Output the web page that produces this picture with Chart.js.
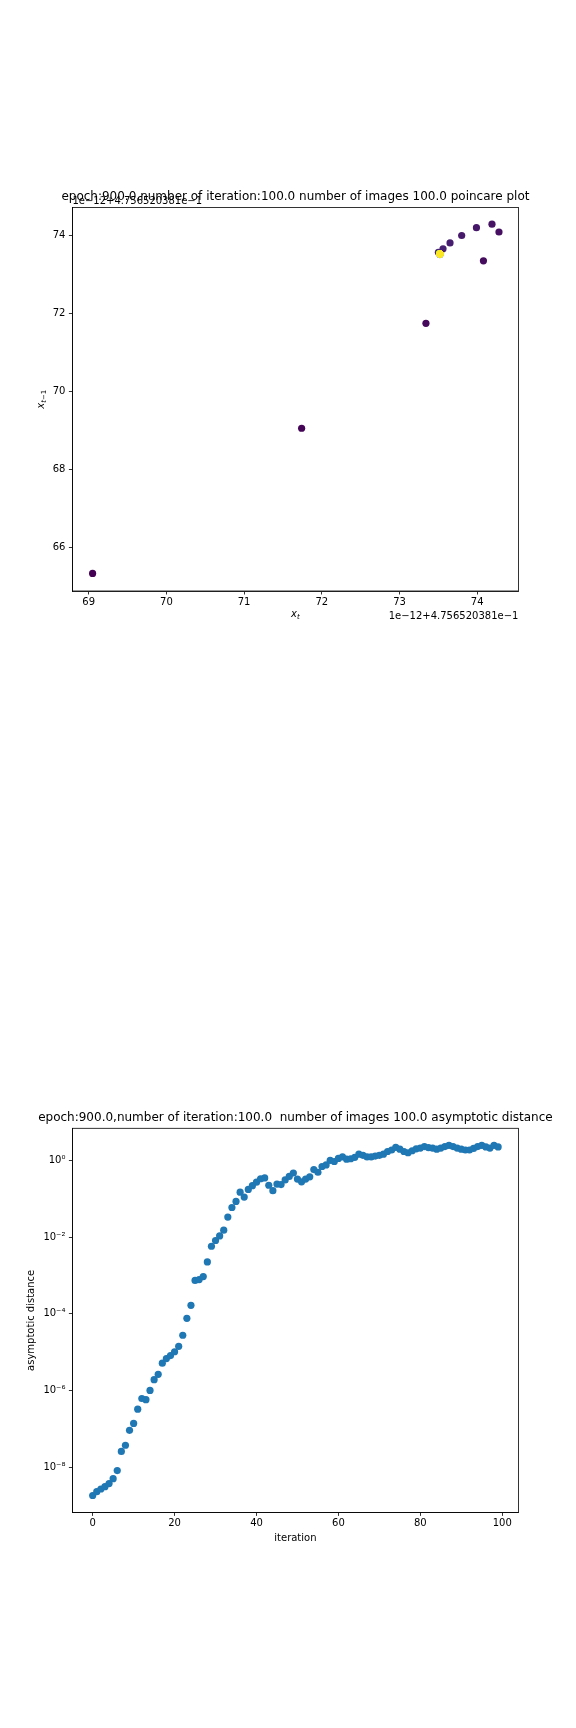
<!DOCTYPE html>
<html><head><meta charset="utf-8">
<script src="https://cdn.jsdelivr.net/npm/chart.js@4.4.0/dist/chart.umd.min.js"></script>
<style>
html,body{margin:0;padding:0;background:#fff;}
#wrap{position:relative;width:576px;height:1728px;background:#fff;overflow:hidden;}
canvas{position:absolute;left:0;}
</style></head><body>
<div id="wrap">
<canvas id="c1" width="576" height="700" style="top:0px;width:576px;height:700px"></canvas>
<canvas id="c2" width="576" height="728" style="top:1000px;width:576px;height:728px"></canvas>
</div>
<script>
// ---------- data: poincare plot (values shown as offset 1e-12 + 4.756520381e-1) ----------
const poincareSeries = [
  65.33, 69.05, 71.74, 73.34, 74.08, 74.28, 74.19, 73.99, 73.80, 73.65, 73.56, 73.50,
  73.52, 73.52, 73.52, 73.52, 73.52, 73.52, 73.52, 73.52, 73.52, 73.52, 73.52,
  73.52, 73.52, 73.52, 73.52, 73.52, 73.52, 73.52, 73.52, 73.52, 73.52, 73.52,
  73.52, 73.52, 73.52, 73.52, 73.52, 73.52, 73.52, 73.52, 73.52, 73.52, 73.52,
  73.52, 73.52, 73.52, 73.52, 73.52, 73.52, 73.52, 73.52, 73.52, 73.52, 73.52,
  73.52, 73.52, 73.52, 73.52, 73.52, 73.52, 73.52, 73.52, 73.52, 73.52, 73.52,
  73.52, 73.52, 73.52, 73.52, 73.52, 73.52, 73.52, 73.52, 73.52, 73.52, 73.52,
  73.52, 73.52, 73.52, 73.52, 73.52, 73.52, 73.52, 73.52, 73.52, 73.52, 73.52,
  73.52, 73.52, 73.52, 73.52, 73.52, 73.52, 73.52, 73.52, 73.52, 73.52, 73.52
];
const poincareXTicks = [69, 70, 71, 72, 73, 74];
const poincareXTickLabels = ['69', '70', '71', '72', '73', '74'];
const poincareYTicks = [66, 68, 70, 72, 74];
const poincareYTickLabels = ['66', '68', '70', '72', '74'];
const offsetText = '1e\u221212+4.756520381e\u22121';
const title1 = 'epoch:900.0,number of iteration:100.0 number of images 100.0 poincare plot';

// ---------- data: asymptotic distance ----------
const iterations = [
  0,1,2,3,4,5,6,7,8,9,10,11,12,13,14,15,16,17,18,19,
  20,21,22,23,24,25,26,27,28,29,30,31,32,33,34,35,36,37,38,39,
  40,41,42,43,44,45,46,47,48,49,50,51,52,53,54,55,56,57,58,59,
  60,61,62,63,64,65,66,67,68,69,70,71,72,73,74,75,76,77,78,79,
  80,81,82,83,84,85,86,87,88,89,90,91,92,93,94,95,96,97,98,99
];
const distances = [
  1.82e-9, 2.29e-9, 2.69e-9, 3.09e-9, 3.72e-9, 5.01e-9, 8.13e-9, 2.57e-8, 3.72e-8, 9.12e-8,
  1.38e-7, 3.24e-7, 6.17e-7, 5.75e-7, 1.00e-6, 1.91e-6, 2.63e-6, 5.13e-6, 6.76e-6, 8.13e-6,
  1.02e-5, 1.41e-5, 2.75e-5, 7.59e-5, 1.66e-4, 7.41e-4, 7.76e-4, 9.33e-4, 2.24e-3, 5.75e-3,
  8.13e-3, 1.07e-2, 1.51e-2, 3.31e-2, 5.89e-2, 8.51e-2, 0.148, 0.110, 0.174, 0.219,
  0.269, 0.331, 0.347, 0.224, 0.162, 0.240, 0.234, 0.309, 0.380, 0.468,
  0.324, 0.275, 0.324, 0.372, 0.575, 0.490, 0.692, 0.759, 1.00, 0.933,
  1.12, 1.23, 1.07, 1.10, 1.20, 1.45, 1.35, 1.23, 1.23, 1.29,
  1.35, 1.45, 1.70, 1.86, 2.19, 1.95, 1.70, 1.58, 1.78, 2.00,
  2.09, 2.29, 2.14, 2.09, 1.95, 2.09, 2.29, 2.45, 2.29, 2.09,
  1.95, 1.86, 1.86, 2.04, 2.29, 2.45, 2.24, 2.09, 2.45, 2.24
];
const iterTicks = [0, 20, 40, 60, 80, 100];
const iterTickLabels = ['0', '20', '40', '60', '80', '100'];
const distTicks = [1e-8, 1e-6, 1e-4, 1e-2, 1];
const distTickLabels = ['10\u207B\u2078', '10\u207B\u2076', '10\u207B\u2074', '10\u207B\u00B2', '10\u2070'];
const title2 = 'epoch:900.0,number of iteration:100.0  number of images 100.0 asymptotic distance';

// ---------- styling helpers ----------
const FONT = '"DejaVu Sans"';
const viridisStops = ['#440154','#482475','#414487','#355f8d','#2a788e','#21918c','#22a884','#44bf70','#7ad151','#bddf26','#fde725'];
function hex2rgb(h){return [parseInt(h.slice(1,3),16),parseInt(h.slice(3,5),16),parseInt(h.slice(5,7),16)];}
function viridis(f){
  f = Math.max(0, Math.min(1, f));
  const p = f*(viridisStops.length-1), i = Math.min(Math.floor(p), viridisStops.length-2), r = p-i;
  const a = hex2rgb(viridisStops[i]), b = hex2rgb(viridisStops[i+1]);
  return 'rgb(' + a.map((v,k)=>Math.round(v+(b[k]-v)*r)).join(',') + ')';
}

function drawRich(ctx, t){
  ctx.save();
  ctx.translate(t.x, t.y);
  if (t.rot) ctx.rotate(t.rot*Math.PI/180);
  ctx.textBaseline = 'alphabetic';
  ctx.fillStyle = '#000';
  const fonts = t.segs.map(g => (g.italic ? 'oblique ' : '') + g.size + 'px ' + FONT);
  let w = 0;
  t.segs.forEach((g,i)=>{ctx.font = fonts[i]; w += ctx.measureText(g.s).width;});
  let x = t.align === 'center' ? -w/2 : (t.align === 'right' ? -w : 0);
  t.segs.forEach((g,i)=>{ctx.font = fonts[i]; ctx.fillText(g.s, x, g.dy || 0); x += ctx.measureText(g.s).width;});
  ctx.restore();
}

const deco = {
  id: 'deco',
  afterDraw(chart, args, opts){
    const ctx = chart.ctx, a = chart.chartArea;
    ctx.save();
    ctx.strokeStyle = '#000';
    ctx.lineWidth = 0.8;
    ctx.strokeRect(a.left, a.top, a.right - a.left, a.bottom - a.top);
    (opts.texts ? opts.texts(a) : []).forEach(t => drawRich(ctx, t));
    ctx.restore();
  }
};

function axis(type, position, min, max, tickVals, tickLabels, size, pad){
  return {
    type, position, min, max,
    afterBuildTicks: s => { s.ticks = tickVals.map(v => ({value: v})); },
    afterFit: s => { if (position === 'left') s.width = size; else s.height = size; },
    ticks: {
      callback: (v, i) => tickLabels[i],
      font: {family: 'DejaVu Sans', size: 10},
      color: '#000', padding: pad, autoSkip: false, maxRotation: 0, minRotation: 0
    },
    grid: {display: true, drawOnChartArea: false, drawTicks: true, tickLength: 3.5, color: '#000', lineWidth: 0.8},
    border: {display: true, color: '#000', width: 0.8}
  };
}

// ---------- chart 1: poincare plot ----------
const pPoints = [], pColors = [];
for (let t = 1; t < poincareSeries.length; t++) {
  pPoints.push({x: poincareSeries[t], y: poincareSeries[t-1]});
  pColors.push(viridis((t-1)/(poincareSeries.length-2)));
}
const A1 = {left: 72.4, right: 518.4, top: 207.4, bottom: 591.0, h: 700};
new Chart(document.getElementById('c1'), {
  type: 'scatter',
  data: {datasets: [{data: pPoints, pointBackgroundColor: pColors, backgroundColor: pColors, borderWidth: 0, pointBorderWidth: 0, pointRadius: 3.6, pointHoverRadius: 3.6}]},
  options: {
    responsive: false, animation: false, devicePixelRatio: 1,
    layout: {padding: {left: 0, right: 576 - A1.right, top: A1.top, bottom: A1.h - A1.bottom - 30}},
    plugins: {
      legend: {display: false}, tooltip: {enabled: false},
      deco: {texts: a => [
        {x: (a.left+a.right)/2, y: a.top - 7, align: 'center', segs: [{s: title1, size: 12}]},
        {x: a.left, y: a.top - 3.5, align: 'left', segs: [{s: offsetText, size: 10}]},
        {x: a.right, y: a.bottom + 27.5, align: 'right', segs: [{s: offsetText, size: 10}]},
        {x: (a.left+a.right)/2, y: a.bottom + 26, align: 'center', segs: [{s: 'x', size: 10, italic: true}, {s: 't', size: 7, italic: true, dy: 1.6}]},
        {x: 44, y: (a.top+a.bottom)/2, rot: -90, align: 'center', segs: [{s: 'x', size: 10, italic: true}, {s: 't', size: 7, italic: true, dy: 1.6}, {s: '\u22121', size: 7, dy: 1.6}]}
      ]}
    },
    scales: {
      x: axis('linear', 'bottom', 68.79, 74.53, poincareXTicks, poincareXTickLabels, 30, 2),
      y: axis('linear', 'left', 64.88, 74.71, poincareYTicks, poincareYTickLabels, A1.left, 3.5)
    }
  },
  plugins: [deco]
});

// ---------- chart 2: asymptotic distance ----------
const dPoints = iterations.map((it, i) => ({x: it, y: distances[i]}));
const A2 = {left: 72.4, right: 518.4, top: 128.3, bottom: 512.4, h: 728};
new Chart(document.getElementById('c2'), {
  type: 'scatter',
  data: {datasets: [{data: dPoints, pointBackgroundColor: '#1f77b4', backgroundColor: '#1f77b4', borderWidth: 0, pointBorderWidth: 0, pointRadius: 3.6, pointHoverRadius: 3.6}]},
  options: {
    responsive: false, animation: false, devicePixelRatio: 1,
    layout: {padding: {left: 0, right: 576 - A2.right, top: A2.top, bottom: A2.h - A2.bottom - 30}},
    plugins: {
      legend: {display: false}, tooltip: {enabled: false},
      deco: {texts: a => [
        {x: (a.left+a.right)/2, y: a.top - 7, align: 'center', segs: [{s: title2, size: 12}]},
        {x: (a.left+a.right)/2, y: a.bottom + 29, align: 'center', segs: [{s: 'iteration', size: 10}]},
        {x: 33.5, y: (a.top+a.bottom)/2, rot: -90, align: 'center', segs: [{s: 'asymptotic distance', size: 10}]}
      ]}
    },
    scales: {
      x: axis('linear', 'bottom', -4.95, 103.95, iterTicks, iterTickLabels, 30, 2),
      y: axis('logarithmic', 'left', 6.6e-10, 6.85, distTicks, distTickLabels, A2.left, 3.5)
    }
  },
  plugins: [deco]
});
</script>
</body></html>
